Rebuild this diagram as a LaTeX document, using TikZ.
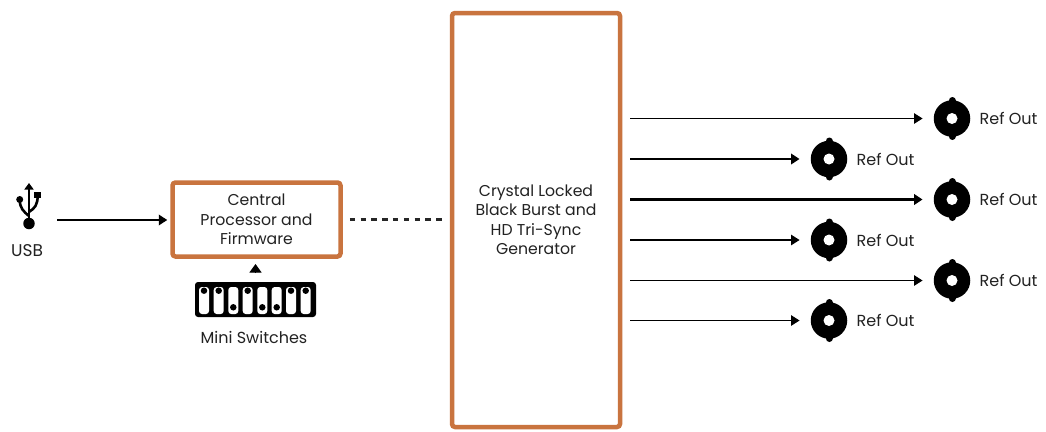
\documentclass[tikz,border=0pt]{standalone}
\usepackage{fontspec}
\setmainfont{Poppins}
\usetikzlibrary{arrows.meta}
\definecolor{boxorange}{HTML}{C9743F}
\definecolor{inkdark}{HTML}{222222}
\tikzset{
  x=1pt,y=-1pt,
  orangebox/.style={draw=boxorange,line width=4.5pt,rounded corners=3pt,fill=white,inner sep=0pt,align=center,text=inkdark,font=\fontsize{15.7}{19.5}\selectfont},
  label/.style={text=inkdark,inner sep=0pt,font=\fontsize{16}{18}\selectfont},
  link/.style={draw=black,-{Triangle[length=8.5pt,width=10.5pt]}},
  bncbody/.style={circle,fill=black,draw=none,minimum size=36.5pt,inner sep=0pt},
  bncear/.style={draw=black,line width=7pt,line cap=round},
  bnchole/.style={circle,fill=white,draw=none,minimum size=11pt,inner sep=0pt},
  slotbox/.style={fill=white,draw=none,rounded corners=3pt,minimum width=10pt,minimum height=27pt,inner sep=0pt},
  pin/.style={circle,fill=black,draw=none,minimum size=6.5pt,inner sep=0pt},
}
\newcommand{\bncicon}[3]{%
  \draw[bncear] (#2,#3-18) -- (#2,#3+18);
  \node[bncbody] (#1) at (#2,#3) {};
  \node[bnchole] (#1hole) at (#2,#3) {};
}
\begin{document}
\begin{tikzpicture}
\useasboundingbox (0,0) rectangle (1046,431);
\fill[white] (0,0) rectangle (1046,431);

% boxes
\node[orangebox,minimum width=168pt,minimum height=74pt] (central) at (256.5,219.5) {Central\\Processor and\\Firmware};
\node[orangebox,minimum width=168pt,minimum height=414pt] (gen) at (536,220) {Crystal Locked\\Black Burst and\\HD Tri-Sync\\Generator};

% dashed connector
\draw[black!85,line width=2.2pt,dash pattern=on 5.5pt off 5.3pt,shorten <=7pt,shorten >=8pt] (central.east) -- (central.east -| gen.west);

% USB
\coordinate (usbtip) at (29,183);
\coordinate (usbbase) at (29,223.5);
\draw[line width=2.6pt,-{Triangle[length=6.5pt,width=9pt]}] (usbbase) -- (usbtip);
\draw[line width=2.6pt] (29,216) .. controls (23,211) and (20,208) .. (19.7,200);
\draw[line width=2.6pt] (29,212) .. controls (35,208) and (37.7,205) .. (37.7,195);
\node[circle,fill=black,minimum size=11.5pt,inner sep=0pt] (usbdot) at (usbbase) {};
\node[circle,fill=black,minimum size=7pt,inner sep=0pt] (usbl) at (19.7,199.5) {};
\node[fill=black,minimum size=6.5pt,inner sep=0pt] (usbr) at (37.7,195) {};
\node[label,font=\fontsize{17}{18}\selectfont] (usb) at (27,251) {USB};
\coordinate (usbout) at (57,220);
\draw[link,line width=1.9pt,shorten >=3pt] (usbout) -- (usbout -| central.west);

% mini switches
\node[fill=black,rounded corners=3pt,minimum width=121pt,minimum height=35pt,inner sep=0pt] (switches) at (255.5,299.5) {};
\foreach \n/\sx/\py in {a/204/290.7,b/218.7/290.7,c/233.3/307.3,d/247.7/290.7,e/262.3/307.3,f/276.7/307.3,g/291/290.7,h/305.7/290.7}{
  \node[slotbox] (slot\n) at (\sx,300.5) {};
  \node[pin] (pin\n) at (\sx,\py) {};
}
\coordinate (swtip) at (255.5,264);
\coordinate (swbase) at (255.5,273);
\draw[-{Triangle[length=8.5pt,width=12pt]},line width=1pt] (swbase) -- (swtip);
\node[label] (swlabel) at (254,337) {Mini Switches};

% reference outputs
\bncicon{ba}{952}{118.5}
\bncicon{bb}{829}{159}
\bncicon{bc}{952}{199.5}
\bncicon{bd}{829}{240}
\bncicon{be}{952}{280.5}
\bncicon{bf}{829}{320.5}
\foreach \b/\lw in {ba/1.1,bb/1.9,bc/2.2,bd/1.1,be/1.1,bf/1.1}{
  \coordinate (s\b) at (630,0);
  \draw[link,line width=\lw pt,shorten >=11pt] (s\b |- \b.west) -- (\b.west);
  \node[label,anchor=west] (l\b) at ([xshift=9pt]\b.east) {Ref Out};
}
\end{tikzpicture}
\end{document}
